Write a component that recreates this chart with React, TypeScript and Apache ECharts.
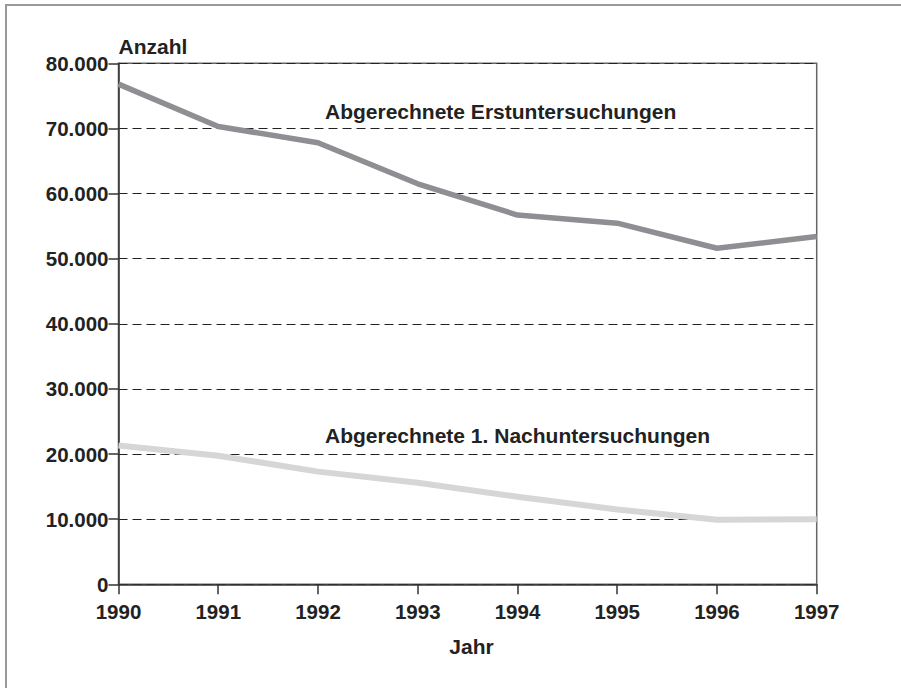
import React, { useEffect, useRef } from "react";
import * as echarts from "echarts";

const years = ["1990", "1991", "1992", "1993", "1994", "1995", "1996", "1997"];
const erstuntersuchungen = [76800, 70300, 67800, 61500, 56700, 55450, 51600, 53400];
const nachuntersuchungen = [21300, 19750, 17300, 15600, 13450, 11500, 9900, 10000];
const labelErst = "Abgerechnete Erstuntersuchungen";
const labelNach = "Abgerechnete 1. Nachuntersuchungen";
const yName = "Anzahl";
const xName = "Jahr";

const FONT = "'Liberation Sans', Arial, Helvetica, sans-serif";

export default function App() {
  const ref = useRef<HTMLDivElement>(null);
  useEffect(() => {
    document.body.style.margin = "0";
    const chart = echarts.init(ref.current!, null, { renderer: "svg" });
    const txt = { fontFamily: FONT, fontWeight: "bold" as const, fontSize: 20.5, color: "#222" };
    chart.setOption({
      animation: false,
      backgroundColor: "#fff",
      grid: {
        left: 118.5,
        right: 84.3,
        top: 63.3,
        bottom: 103.7,
        show: true,
        borderColor: "#666",
        borderWidth: 1.5,
      },
      xAxis: {
        type: "category",
        data: years,
        boundaryGap: false,
        axisLine: { lineStyle: { color: "#333", width: 1.5 } },
        axisTick: { show: true, length: 10, lineStyle: { color: "#333", width: 1.5 } },
        axisLabel: { ...txt, margin: 17 },
        splitLine: { show: false },
      },
      yAxis: {
        type: "value",
        min: 0,
        max: 80000,
        interval: 10000,
        axisLine: { show: true, lineStyle: { color: "#333", width: 1.5 } },
        axisTick: { show: true, length: 10, lineStyle: { color: "#333", width: 1.5 } },
        axisLabel: {
          ...txt,
          margin: 10,
          formatter: (v: number) => (v === 0 ? "0" : v / 1000 + ".000"),
        },
        splitLine: { show: true, lineStyle: { color: "#222", width: 1.2, type: [9, 5] } },
      },
      series: [
        {
          type: "line",
          data: erstuntersuchungen,
          symbol: "none",
          lineStyle: { color: "#8e8f93", width: 5.5 },
          z: 3,
        },
        {
          type: "line",
          data: nachuntersuchungen,
          symbol: "none",
          lineStyle: { color: "#d5d6d8", width: 6 },
          z: 3,
        },
      ],
      graphic: [
        { type: "rect", shape: { x: 5, y: 4, width: 896, height: 2 }, style: { fill: "#999" } },
        { type: "rect", shape: { x: 5, y: 4, width: 2, height: 684 }, style: { fill: "#999" } },
        {
          type: "text",
          x: 118.5,
          y: 46.5,
          style: { text: yName, font: `bold 21px ${FONT}`, fill: "#222", verticalAlign: "middle", align: "left" },
        },
        {
          type: "text",
          x: 471.5,
          y: 646.7,
          style: { text: xName, font: `bold 21px ${FONT}`, fill: "#222", verticalAlign: "middle", align: "center" },
        },
        {
          type: "text",
          x: 325,
          y: 111.7,
          style: { text: labelErst, font: `bold 21px ${FONT}`, fill: "#222", verticalAlign: "middle", align: "left" },
        },
        {
          type: "text",
          x: 325,
          y: 435,
          style: { text: labelNach, font: `bold 21px ${FONT}`, fill: "#222", verticalAlign: "middle", align: "left" },
        },
      ],
    });
    return () => chart.dispose();
  }, []);
  return <div ref={ref} style={{ width: 901, height: 688 }} />;
}
